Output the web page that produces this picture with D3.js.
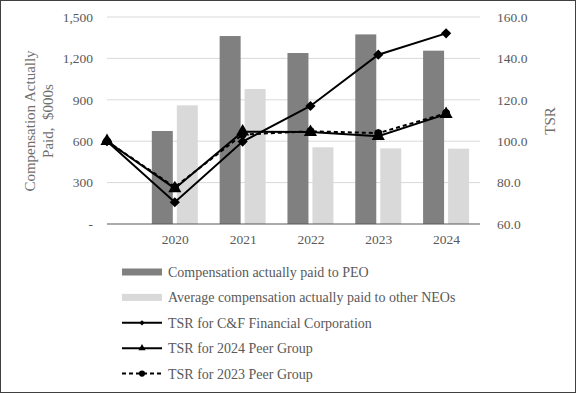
<!DOCTYPE html>
<html>
<head>
<meta charset="utf-8">
<script src="https://cdn.jsdelivr.net/npm/d3@7"></script>
<style>
  body { margin: 0; background: #fff; }
  svg text { font-family: "Liberation Serif", "Times New Roman", serif; fill: #595959; }
</style>
</head>
<body>
<div id="main"></div>
<script>
// categories (first slot is the empty starting point for the TSR lines)
const years = ["", "2020", "2021", "2022", "2023", "2024"];
const barYears = ["2020", "2021", "2022", "2023", "2024"];

// compensation actually paid, $000s
const peoPay = [674, 1362, 1239, 1374, 1256];
const neoPay = [860, 978, 556, 548, 546];

// TSR series
const tsrCF = [100, 70.5, 99.8, 117.0, 141.8, 152.1];
const tsrPeer2024 = [100, 77.2, 104.6, 104.4, 102.4, 113.1];
const tsrPeer2023 = [100, 77.8, 103.2, 104.8, 103.9, 113.5];

const leftTicks = [0, 300, 600, 900, 1200, 1500];
const rightTicks = [60, 80, 100, 120, 140, 160];

const legendItems = [
  {label: "Compensation actually paid to PEO", type: "bar", color: "#808080"},
  {label: "Average compensation actually paid to other NEOs", type: "bar", color: "#d9d9d9"},
  {label: "TSR for C&F Financial Corporation", type: "line", marker: "diamond", dash: null},
  {label: "TSR for 2024 Peer Group", type: "line", marker: "triangle", dash: null},
  {label: "TSR for 2023 Peer Group", type: "line", marker: "circle", dash: "4,3"}
];

const W = 576, H = 393;
const plot = {left: 107, right: 480, top: 17, bottom: 224};

const svg = d3.select("#main")
  .append("svg")
    .attr("width", W)
    .attr("height", H);

// outer frame
svg.append("rect")
  .attr("x", 0.5).attr("y", 0.5)
  .attr("width", W - 1).attr("height", H - 1)
  .attr("fill", "none")
  .attr("stroke", "#404040");

const x = d3.scalePoint().domain(years).range([plot.left, plot.left + (plot.right - plot.left) * 5 / 5.5]);
const y = d3.scaleLinear().domain([0, 1500]).range([plot.bottom, plot.top]);
const y2 = d3.scaleLinear().domain([60, 160]).range([plot.bottom, plot.top]);

// gridlines
svg.append("g")
  .selectAll("line")
  .data(leftTicks.slice(1))
  .join("line")
    .attr("x1", plot.left).attr("x2", plot.right)
    .attr("y1", d => y(d)).attr("y2", d => y(d))
    .attr("stroke", "#d9d9d9")
    .attr("stroke-width", 1);

// left axis
const leftAxis = svg.append("g")
  .attr("transform", `translate(${plot.left},0)`)
  .call(d3.axisLeft(y).tickValues(leftTicks).tickSize(0).tickPadding(14)
    .tickFormat(d => d === 0 ? "-" : d3.format(",")(d)));
leftAxis.select(".domain").remove();
leftAxis.selectAll("text").style("font-size", "13.5px").style("fill", "#595959");

// right axis
const rightAxis = svg.append("g")
  .attr("transform", `translate(${plot.right},0)`)
  .call(d3.axisRight(y2).tickValues(rightTicks).tickSize(0).tickPadding(17)
    .tickFormat(d3.format(".1f")));
rightAxis.select(".domain").remove();
rightAxis.selectAll("text").style("font-size", "13.5px").style("fill", "#595959");

// bars
const barW = 21;
svg.append("g")
  .selectAll("rect")
  .data(peoPay)
  .join("rect")
    .attr("x", (d, i) => x(barYears[i]) - 2 - barW)
    .attr("y", d => y(d))
    .attr("width", barW)
    .attr("height", d => y(0) - y(d))
    .attr("fill", "#808080");

svg.append("g")
  .selectAll("rect")
  .data(neoPay)
  .join("rect")
    .attr("x", (d, i) => x(barYears[i]) + 2)
    .attr("y", d => y(d))
    .attr("width", barW)
    .attr("height", d => y(0) - y(d))
    .attr("fill", "#d9d9d9");

// baseline
svg.append("line")
  .attr("x1", plot.left).attr("x2", plot.right)
  .attr("y1", plot.bottom).attr("y2", plot.bottom)
  .attr("stroke", "#595959")
  .attr("stroke-width", 1.2);

// bottom axis
const bottomAxis = svg.append("g")
  .attr("transform", `translate(0,${plot.bottom})`)
  .call(d3.axisBottom(x).tickSize(0).tickPadding(10));
bottomAxis.select(".domain").remove();
bottomAxis.selectAll("text").style("font-size", "13.5px").style("fill", "#595959");

// markers (diamond = square turned 45deg, like Excel)
const markerShape = {
  diamond: {symbol: d3.symbol().type(d3.symbolSquare).size(52), rotate: 45},
  triangle: {symbol: d3.symbol().type(d3.symbolTriangle).size(75), rotate: 0},
  circle: {symbol: d3.symbol().type(d3.symbolCircle).size(50), rotate: 0}
};

const line = d3.line()
  .x((d, i) => x(years[i]))
  .y(d => y2(d));

function drawSeries(values, marker, dash) {
  svg.append("path")
    .datum(values)
    .attr("d", line)
    .attr("fill", "none")
    .attr("stroke", "#000")
    .attr("stroke-width", 2)
    .attr("stroke-dasharray", dash);
  const m = markerShape[marker];
  svg.append("g")
    .selectAll("path")
    .data(values)
    .join("path")
      .attr("transform", (d, i) => `translate(${x(years[i])},${y2(d)}) rotate(${m.rotate})`)
      .attr("d", m.symbol())
      .attr("fill", "#000");
}

drawSeries(tsrPeer2023, "circle", "4,3");
drawSeries(tsrPeer2024, "triangle", null);
drawSeries(tsrCF, "diamond", null);

// axis titles
const leftTitle = svg.append("text")
  .attr("transform", "translate(39,121) rotate(-90)")
  .attr("text-anchor", "middle")
  .style("font-size", "15px")
  .style("fill", "#6f6f6f")
  .style("white-space", "pre");
leftTitle.append("tspan").attr("x", 0).attr("dy", "-0.25em").text("Compensation Actually");
leftTitle.append("tspan").attr("x", 0).attr("dy", "1.15em").text("Paid,\u00a0 $000s");

svg.append("text")
  .attr("transform", "translate(550,121) rotate(-90)")
  .attr("text-anchor", "middle")
  .attr("dy", "0.35em")
  .style("font-size", "15px")
  .style("fill", "#6f6f6f")
  .text("TSR");

// legend
const legend = svg.append("g")
  .selectAll("g")
  .data(legendItems)
  .join("g")
    .attr("transform", (d, i) => `translate(122,${272 + i * 25.4})`);

legend.each(function(d) {
  const g = d3.select(this);
  if (d.type === "bar") {
    g.append("rect")
      .attr("x", 0).attr("y", -3.5)
      .attr("width", 40).attr("height", 7)
      .attr("fill", d.color);
  } else {
    g.append("line")
      .attr("x1", 0).attr("x2", 40)
      .attr("y1", 0).attr("y2", 0)
      .attr("stroke", "#000")
      .attr("stroke-width", 2)
      .attr("stroke-dasharray", d.dash);
    const rot = d.marker === "diamond" ? 45 : 0;
    const s = d.marker === "circle" ? d3.symbol().type(d3.symbolCircle).size(30)
      : d3.symbol().type(d.marker === "diamond" ? d3.symbolSquare : d3.symbolTriangle).size(d.marker === "diamond" ? 14 : 22);
    g.append("path")
      .attr("transform", `translate(20,0) rotate(${rot})`)
      .attr("d", s())
      .attr("fill", "#000");
  }
  g.append("text")
    .attr("x", 46)
    .attr("dy", "0.35em")
    .style("font-size", "14px")
    .text(d.label);
});
</script>
</body>
</html>
